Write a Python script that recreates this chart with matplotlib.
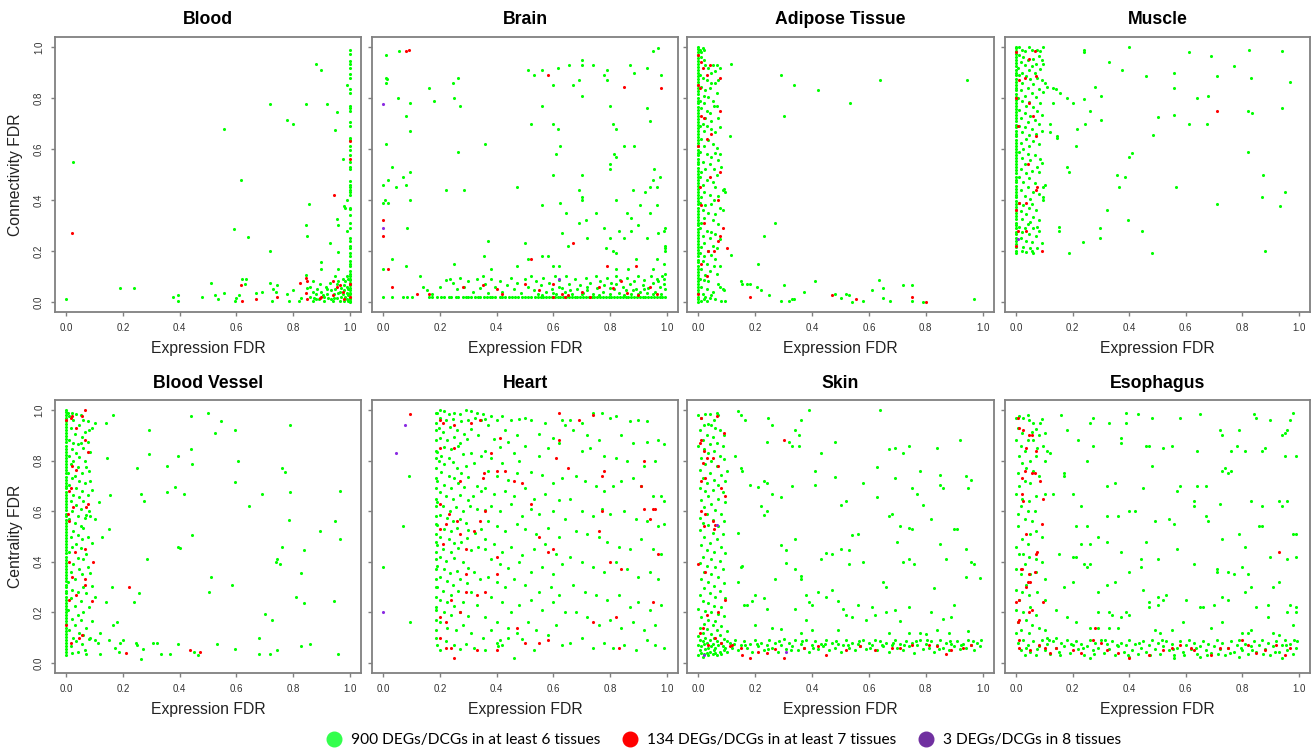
import matplotlib
matplotlib.use("Agg")
import matplotlib.pyplot as plt
from matplotlib.lines import Line2D
import numpy as np

plt.rcParams["font.family"] = ["Liberation Sans", "DejaVu Sans"]

# ---------------- data (Expression FDR, Connectivity/Centrality FDR) ----------------
tissues = ["Blood", "Brain", "Adipose Tissue", "Muscle",
           "Blood Vessel", "Heart", "Skin", "Esophagus"]
ylabels = ["Connectivity FDR", "Centrality FDR"]
xticks = [0.0, 0.2, 0.4, 0.6, 0.8, 1.0]
legend_labels = ["900 DEGs/DCGs in at least 6 tissues",
                 "134 DEGs/DCGs in at least 7 tissues",
                 "3 DEGs/DCGs in 8 tissues"]

# Blood
blood_green = [
    (0.00, 0.01), (0.025, 0.55), (0.19, 0.055), (0.24, 0.055), (0.375, 0.02), (0.395, 0.025), (0.395, 0.005),
    (0.48, 0.02), (0.51, 0.075), (0.525, 0.025), (0.535, 0.01), (0.555, 0.68), (0.555, 0.035),
    (0.59, 0.285), (0.595, 0.005), (0.60, 0.015), (0.61, 0.025), (0.615, 0.48), (0.62, 0.09), (0.63, 0.07),
    (0.635, 0.09), (0.64, 0.255), (0.67, 0.035), (0.69, 0.04), (0.72, 0.775), (0.72, 0.20), (0.72, 0.075),
    (0.725, 0.005), (0.73, 0.05), (0.74, 0.04), (0.745, 0.065), (0.78, 0.715), (0.78, 0.03), (0.785, 0.005),
    (0.80, 0.70), (0.80, 0.045), (0.82, 0.005), (0.83, 0.015), (0.845, 0.775), (0.845, 0.30), (0.85, 0.26),
    (0.855, 0.385), (0.845, 0.105), (0.85, 0.055), (0.86, 0.02), (0.87, 0.005), (0.88, 0.935), (0.90, 0.91),
    (0.92, 0.775), (0.955, 0.745), (0.95, 0.675), (0.93, 0.23), (0.96, 0.195), (0.955, 0.325), (0.96, 0.30),
    (0.96, 0.13), (0.90, 0.155), (0.90, 0.13), (0.975, 0.56), (0.98, 0.375), (0.99, 0.40), (0.99, 0.85),
    (0.99, 0.28), (0.985, 0.37),
    (0.86, 0.06), (0.87, 0.04), (0.875, 0.015), (0.88, 0.03), (0.885, 0.05), (0.89, 0.01), (0.895, 0.07),
    (0.90, 0.04), (0.905, 0.025), (0.91, 0.005), (0.915, 0.06), (0.92, 0.03), (0.925, 0.015), (0.93, 0.075),
    (0.935, 0.045), (0.94, 0.005), (0.945, 0.03), (0.95, 0.10), (0.95, 0.05), (0.955, 0.015), (0.96, 0.08),
    (0.96, 0.035), (0.965, 0.005), (0.97, 0.055), (0.97, 0.02), (0.975, 0.09), (0.975, 0.03), (0.98, 0.065),
    (0.98, 0.045), (0.98, 0.005), (0.985, 0.08), (0.985, 0.02), (0.99, 0.10), (0.99, 0.06), (0.99, 0.035),
    (0.99, 0.01), (0.995, 0.09), (0.995, 0.05), (0.995, 0.025), (0.995, 0.005), (0.91, 0.02), (0.87, 0.08),
    (0.88, 0.01), (0.935, 0.01), (0.965, 0.04), (0.955, 0.07), (0.945, 0.015), (0.92, 0.05),
]
blood_one_y = [0.99, 0.975, 0.945, 0.935, 0.92, 0.895, 0.88, 0.835, 0.82, 0.77, 0.76, 0.75, 0.705, 0.69,
               0.645, 0.635, 0.61, 0.595, 0.575, 0.55, 0.53, 0.52, 0.475, 0.46, 0.45, 0.44, 0.43, 0.42,
               0.37, 0.365, 0.34, 0.31, 0.29, 0.25, 0.24, 0.22, 0.21, 0.19, 0.18, 0.16, 0.15, 0.14, 0.12,
               0.11, 0.10, 0.09, 0.085, 0.075, 0.065, 0.055, 0.045, 0.035, 0.03, 0.02, 0.015, 0.01, 0.005, 0.0]
blood_red = [(0.02, 0.27), (0.615, 0.065), (0.62, 0.005), (0.67, 0.01), (0.745, 0.02), (0.825, 0.075),
             (0.845, 0.095), (0.85, 0.08), (0.845, 0.035), (0.85, 0.01), (0.895, 0.015), (0.90, 0.02),
             (0.94, 0.08), (0.94, 0.025), (0.945, 0.42), (0.955, 0.06), (0.965, 0.065), (0.975, 0.04),
             (0.98, 0.01), (1.0, 0.63), (1.0, 0.56), (1.0, 0.07), (1.0, 0.02)]
blood_purple = []

# Brain
brain_green = [
    (0.01, 0.97), (0.055, 0.985), (0.01, 0.88), (0.012, 0.875), (0.01, 0.86), (0.05, 0.80), (0.095, 0.78),
    (0.08, 0.73), (0.095, 0.67), (0.01, 0.62), (0.03, 0.53), (0.0, 0.46), (0.015, 0.48), (0.07, 0.49),
    (0.095, 0.51), (0.045, 0.45), (0.08, 0.46), (0.0, 0.39), (0.005, 0.40), (0.015, 0.39), (0.095, 0.40),
    (0.085, 0.29), (0.0, 0.13), (0.03, 0.17), (0.08, 0.14),
    (0.16, 0.84), (0.245, 0.86), (0.265, 0.88), (0.18, 0.79), (0.25, 0.80), (0.27, 0.77), (0.265, 0.59),
    (0.22, 0.44), (0.285, 0.44), (0.36, 0.62), (0.47, 0.45), (0.37, 0.24), (0.355, 0.18), (0.38, 0.13),
    (0.25, 0.15), (0.51, 0.91), (0.53, 0.89), (0.56, 0.91), (0.615, 0.92), (0.655, 0.93), (0.70, 0.95),
    (0.70, 0.93), (0.74, 0.93), (0.79, 0.91), (0.78, 0.89), (0.87, 0.93), (0.885, 0.90), (0.93, 0.92),
    (0.95, 0.985), (0.97, 0.995), (0.98, 0.89), (0.60, 0.85), (0.67, 0.85), (0.69, 0.87), (0.70, 0.81),
    (0.56, 0.77), (0.52, 0.70), (0.60, 0.70), (0.615, 0.68), (0.625, 0.61), (0.61, 0.58), (0.60, 0.50),
    (0.70, 0.50), (0.69, 0.44), (0.70, 0.41), (0.70, 0.40), (0.56, 0.38), (0.625, 0.39), (0.645, 0.35),
    (0.69, 0.31), (0.715, 0.32), (0.75, 0.35), (0.63, 0.27), (0.65, 0.22), (0.72, 0.25), (0.79, 0.87),
    (0.80, 0.77), (0.81, 0.70), (0.82, 0.68), (0.815, 0.58), (0.82, 0.57), (0.80, 0.54), (0.80, 0.52),
    (0.85, 0.61), (0.885, 0.61), (0.93, 0.76), (0.94, 0.71), (0.955, 0.52), (0.95, 0.48), (0.965, 0.45),
    (0.975, 0.49), (0.88, 0.44), (0.925, 0.43), (0.94, 0.45), (0.82, 0.40), (0.905, 0.38), (0.94, 0.35),
    (0.965, 0.38), (0.86, 0.35), (0.875, 0.33), (0.90, 0.30), (0.78, 0.29), (0.83, 0.28), (0.875, 0.28),
    (0.80, 0.25), (0.85, 0.25), (0.93, 0.25), (0.97, 0.27), (0.99, 0.28), (0.995, 0.29), (0.995, 0.22),
    (0.995, 0.21), (0.995, 0.20), (0.99, 0.15), (0.965, 0.17), (0.95, 0.13), (0.89, 0.17), (0.865, 0.13),
    (0.81, 0.20), (0.82, 0.19), (0.785, 0.21), (0.82, 0.13), (0.56, 0.18), (0.58, 0.18), (0.60, 0.14),
    (0.62, 0.14), (0.50, 0.23), (0.51, 0.17), (0.47, 0.14),
    (0.13, 0.10), (0.14, 0.06), (0.155, 0.045), (0.17, 0.03), (0.20, 0.06), (0.22, 0.085), (0.235, 0.09),
    (0.245, 0.075), (0.26, 0.05), (0.27, 0.095), (0.285, 0.06), (0.30, 0.08), (0.315, 0.04), (0.33, 0.09),
    (0.34, 0.055), (0.35, 0.10), (0.36, 0.07), (0.37, 0.035), (0.38, 0.09), (0.395, 0.06), (0.41, 0.08),
    (0.42, 0.04), (0.435, 0.065), (0.45, 0.095), (0.46, 0.05), (0.47, 0.075), (0.485, 0.035), (0.50, 0.09),
    (0.51, 0.06), (0.52, 0.10), (0.53, 0.045), (0.54, 0.08), (0.545, 0.03), (0.555, 0.065), (0.565, 0.095),
    (0.575, 0.04), (0.585, 0.075), (0.595, 0.05), (0.605, 0.10), (0.61, 0.03), (0.62, 0.085), (0.63, 0.055),
    (0.64, 0.04), (0.645, 0.10), (0.655, 0.07), (0.665, 0.03), (0.675, 0.09), (0.685, 0.05), (0.695, 0.065),
    (0.705, 0.035), (0.715, 0.095), (0.72, 0.045), (0.73, 0.075), (0.74, 0.03), (0.75, 0.10), (0.755, 0.055),
    (0.765, 0.08), (0.775, 0.04), (0.78, 0.065), (0.79, 0.095), (0.80, 0.03), (0.805, 0.075), (0.815, 0.05),
    (0.82, 0.10), (0.83, 0.035), (0.835, 0.085), (0.845, 0.06), (0.855, 0.045), (0.86, 0.095), (0.87, 0.07),
    (0.875, 0.03), (0.885, 0.08), (0.89, 0.05), (0.90, 0.10), (0.905, 0.04), (0.915, 0.065), (0.92, 0.085),
    (0.93, 0.035), (0.935, 0.055), (0.945, 0.10), (0.95, 0.075), (0.96, 0.04), (0.965, 0.09), (0.975, 0.06),
    (0.98, 0.03), (0.985, 0.10), (0.99, 0.07), (0.995, 0.05), (0.995, 0.11), (0.99, 0.09), (0.70, 0.03),
    (0.60, 0.035), (0.66, 0.045), (0.80, 0.055), (0.85, 0.025), (0.95, 0.03), (0.90, 0.03), (0.56, 0.025),
    (0.76, 0.025), (0.88, 0.045), (0.62, 0.06), (0.72, 0.06), (0.82, 0.07), (0.92, 0.05), (0.97, 0.08),
]
brain_floor_x = [0.0, 0.03, 0.07, 0.085, 0.10, 0.16, 0.17, 0.19, 0.205, 0.215, 0.23, 0.24, 0.255, 0.265,
                 0.28, 0.29, 0.30, 0.31, 0.325, 0.335, 0.34, 0.355, 0.365, 0.375, 0.385, 0.395, 0.41, 0.42,
                 0.43, 0.445, 0.455, 0.465, 0.475, 0.49, 0.50, 0.51, 0.52, 0.535, 0.545, 0.555, 0.565, 0.575,
                 0.585, 0.595, 0.605, 0.615, 0.625, 0.635, 0.645, 0.655, 0.665, 0.675, 0.685, 0.695, 0.705,
                 0.715, 0.725, 0.735, 0.745, 0.755, 0.765, 0.775, 0.785, 0.795, 0.805, 0.815, 0.825, 0.835,
                 0.845, 0.855, 0.865, 0.875, 0.885, 0.895, 0.905, 0.915, 0.925, 0.935, 0.945, 0.955, 0.965,
                 0.975, 0.985, 0.995]
brain_floor_y = 0.02
brain_red = [(0.08, 0.985), (0.09, 0.99), (0.58, 0.89), (0.85, 0.845), (0.98, 0.84), (0.0, 0.32), (0.0, 0.26),
             (0.015, 0.13), (0.03, 0.06), (0.67, 0.23), (0.52, 0.17), (0.79, 0.14), (0.89, 0.14), (0.28, 0.06),
             (0.35, 0.065), (0.40, 0.05), (0.42, 0.03), (0.50, 0.07), (0.55, 0.045), (0.60, 0.07), (0.63, 0.03),
             (0.65, 0.025), (0.70, 0.04), (0.73, 0.02), (0.76, 0.06), (0.81, 0.055), (0.84, 0.08), (0.86, 0.035),
             (0.90, 0.025), (0.94, 0.06), (0.965, 0.03), (0.60, 0.02), (0.64, 0.02), (0.12, 0.03), (0.16, 0.03)]
brain_purple = [(0.0, 0.775), (0.0, 0.29), (0.62, 0.09)]

# Adipose Tissue
adipose_zero_y = [0.0, 0.012, 0.02, 0.035, 0.046, 0.058, 0.07, 0.083, 0.095, 0.105, 0.118, 0.13, 0.142,
                  0.155, 0.166, 0.178, 0.19, 0.203, 0.214, 0.226, 0.24, 0.251, 0.262, 0.275, 0.287, 0.3,
                  0.31, 0.322, 0.335, 0.346, 0.358, 0.37, 0.383, 0.394, 0.406, 0.42, 0.43, 0.442, 0.455,
                  0.466, 0.478, 0.49, 0.503, 0.514, 0.526, 0.54, 0.55, 0.562, 0.575, 0.586, 0.598, 0.61,
                  0.623, 0.634, 0.646, 0.66, 0.67, 0.682, 0.695, 0.706, 0.718, 0.73, 0.743, 0.754, 0.766,
                  0.78, 0.79, 0.802, 0.815, 0.826, 0.838, 0.85, 0.863, 0.874, 0.886, 0.9, 0.91, 0.922,
                  0.935, 0.946, 0.958, 0.97, 0.982, 0.993, 1.0]
adipose_green = [
    (0.005, 0.99), (0.01, 0.98), (0.015, 0.995), (0.02, 0.99), (0.01, 0.96), (0.02, 0.95), (0.025, 0.93),
    (0.035, 0.92), (0.05, 0.93), (0.065, 0.93), (0.075, 0.92), (0.115, 0.935), (0.045, 0.90), (0.06, 0.905),
    (0.005, 0.89), (0.015, 0.88), (0.03, 0.87), (0.045, 0.86), (0.06, 0.86), (0.07, 0.87), (0.01, 0.845),
    (0.025, 0.83), (0.04, 0.84), (0.065, 0.82), (0.02, 0.81), (0.035, 0.805), (0.005, 0.79), (0.02, 0.78),
    (0.05, 0.79), (0.055, 0.77), (0.065, 0.77), (0.01, 0.76), (0.03, 0.75), (0.04, 0.74), (0.025, 0.72),
    (0.07, 0.72), (0.015, 0.70), (0.045, 0.71), (0.005, 0.69), (0.03, 0.69), (0.045, 0.68), (0.075, 0.685),
    (0.02, 0.67), (0.06, 0.665), (0.11, 0.65), (0.01, 0.64), (0.035, 0.635), (0.05, 0.62), (0.075, 0.58),
    (0.02, 0.61), (0.065, 0.605), (0.005, 0.59), (0.03, 0.58), (0.045, 0.57), (0.06, 0.585), (0.07, 0.555),
    (0.015, 0.55), (0.04, 0.54), (0.055, 0.52), (0.08, 0.53), (0.025, 0.52), (0.01, 0.51), (0.065, 0.50),
    (0.005, 0.49), (0.03, 0.48), (0.05, 0.47), (0.015, 0.46), (0.06, 0.45), (0.085, 0.44), (0.09, 0.445),
    (0.095, 0.43), (0.02, 0.43), (0.04, 0.42), (0.07, 0.415), (0.01, 0.41), (0.055, 0.40), (0.005, 0.39),
    (0.025, 0.38), (0.045, 0.385), (0.075, 0.37), (0.015, 0.36), (0.035, 0.35), (0.06, 0.345), (0.085, 0.36),
    (0.02, 0.33), (0.05, 0.32), (0.01, 0.31), (0.07, 0.305), (0.005, 0.29), (0.03, 0.28), (0.045, 0.275),
    (0.06, 0.265), (0.015, 0.26), (0.04, 0.25), (0.075, 0.245), (0.02, 0.23), (0.05, 0.22), (0.065, 0.21),
    (0.01, 0.215), (0.035, 0.20), (0.005, 0.19), (0.02, 0.18), (0.045, 0.185), (0.115, 0.185), (0.06, 0.17),
    (0.015, 0.16), (0.03, 0.15), (0.055, 0.14), (0.075, 0.14), (0.01, 0.13), (0.04, 0.12), (0.065, 0.11),
    (0.025, 0.105), (0.005, 0.09), (0.02, 0.085), (0.035, 0.08), (0.07, 0.07), (0.075, 0.06), (0.085, 0.05),
    (0.09, 0.045), (0.01, 0.06), (0.03, 0.05), (0.05, 0.04), (0.015, 0.03), (0.025, 0.02), (0.04, 0.015),
    (0.06, 0.01), (0.08, 0.005), (0.095, 0.005), (0.01, 0.005), (0.02, 0.01), (0.03, 0.005), (0.045, 0.025),
    (0.29, 0.89), (0.335, 0.85), (0.42, 0.83), (0.535, 0.78), (0.64, 0.87), (0.945, 0.87), (0.30, 0.73),
    (0.27, 0.31), (0.23, 0.26), (0.21, 0.15), (0.15, 0.08), (0.155, 0.07), (0.17, 0.07), (0.18, 0.07),
    (0.205, 0.06), (0.22, 0.045), (0.25, 0.025), (0.29, 0.005), (0.30, 0.065), (0.32, 0.005), (0.33, 0.01),
    (0.335, 0.01), (0.37, 0.04), (0.41, 0.08), (0.48, 0.03), (0.50, 0.015), (0.52, 0.03), (0.53, 0.025),
    (0.54, 0.0), (0.58, 0.005), (0.61, 0.045), (0.635, 0.085), (0.65, 0.055), (0.65, 0.015), (0.675, 0.005),
    (0.72, 0.065), (0.75, 0.065), (0.75, 0.005), (0.79, 0.0), (0.97, 0.01),
]
adipose_red = [(0.18, 0.02), (0.47, 0.025), (0.555, 0.01), (0.75, 0.02), (0.80, 0.0), (0.0, 0.97),
               (0.01, 0.94), (0.04, 0.93), (0.015, 0.92), (0.03, 0.89), (0.075, 0.88), (0.0, 0.85),
               (0.005, 0.84), (0.075, 0.75), (0.01, 0.73), (0.02, 0.72), (0.03, 0.64), (0.045, 0.66),
               (0.0, 0.61), (0.075, 0.51), (0.04, 0.49), (0.005, 0.45), (0.07, 0.40), (0.01, 0.38),
               (0.02, 0.31), (0.085, 0.29), (0.075, 0.26), (0.07, 0.24), (0.055, 0.20), (0.035, 0.20),
               (0.10, 0.21), (0.01, 0.15), (0.03, 0.10), (0.0, 0.03)]
adipose_purple = []

# Muscle
muscle_zero_y = [0.19, 0.2, 0.215, 0.226, 0.24, 0.25, 0.265, 0.276, 0.29, 0.3, 0.31, 0.325, 0.336, 0.35,
                 0.36, 0.372, 0.385, 0.396, 0.41, 0.42, 0.432, 0.445, 0.456, 0.47, 0.48, 0.492, 0.505,
                 0.516, 0.53, 0.54, 0.552, 0.565, 0.576, 0.59, 0.6, 0.612, 0.625, 0.636, 0.65, 0.66, 0.672,
                 0.685, 0.696, 0.71, 0.72, 0.732, 0.745, 0.756, 0.77, 0.78, 0.792, 0.805, 0.816, 0.83, 0.84,
                 0.852, 0.865, 0.876, 0.89, 0.9, 0.912, 0.925, 0.936, 0.95, 0.96, 0.972, 0.985, 0.995, 1.0]
muscle_green = [
    (0.01, 1.0), (0.02, 0.99), (0.03, 0.985), (0.045, 1.0), (0.055, 0.99), (0.075, 0.99), (0.095, 1.0),
    (0.085, 0.985), (0.01, 0.97), (0.025, 0.96), (0.04, 0.95), (0.06, 0.955), (0.08, 0.965), (0.09, 0.95),
    (0.015, 0.94), (0.03, 0.93), (0.055, 0.925), (0.07, 0.935), (0.095, 0.935), (0.005, 0.92), (0.045, 0.91),
    (0.085, 0.915), (0.02, 0.90), (0.065, 0.90), (0.01, 0.89), (0.035, 0.885), (0.05, 0.875), (0.075, 0.88),
    (0.09, 0.87), (0.02, 0.86), (0.06, 0.855), (0.10, 0.86), (0.11, 0.845), (0.04, 0.84), (0.08, 0.835),
    (0.015, 0.83), (0.055, 0.82), (0.095, 0.825), (0.03, 0.81), (0.07, 0.805), (0.005, 0.80), (0.02, 0.79),
    (0.045, 0.785), (0.085, 0.78), (0.035, 0.77), (0.06, 0.765), (0.01, 0.755), (0.075, 0.75), (0.03, 0.74),
    (0.05, 0.73), (0.09, 0.735), (0.015, 0.72), (0.065, 0.715), (0.04, 0.705), (0.08, 0.70), (0.01, 0.69),
    (0.03, 0.685), (0.055, 0.68), (0.02, 0.665), (0.045, 0.655), (0.07, 0.66), (0.09, 0.67), (0.035, 0.64),
    (0.06, 0.63), (0.015, 0.625), (0.08, 0.62), (0.045, 0.61), (0.025, 0.60), (0.01, 0.59), (0.04, 0.58),
    (0.065, 0.575), (0.02, 0.565), (0.05, 0.555), (0.085, 0.56), (0.09, 0.545), (0.03, 0.54), (0.075, 0.53),
    (0.015, 0.52), (0.055, 0.515), (0.035, 0.505), (0.08, 0.51), (0.01, 0.49), (0.045, 0.485), (0.025, 0.47),
    (0.065, 0.465), (0.10, 0.46), (0.095, 0.45), (0.04, 0.45), (0.015, 0.44), (0.06, 0.43), (0.08, 0.425),
    (0.03, 0.415), (0.05, 0.405), (0.095, 0.41), (0.095, 0.40), (0.01, 0.39), (0.025, 0.38), (0.055, 0.385),
    (0.045, 0.37), (0.07, 0.36), (0.015, 0.355), (0.035, 0.345), (0.06, 0.335), (0.02, 0.325), (0.05, 0.315),
    (0.08, 0.32), (0.04, 0.305), (0.01, 0.295), (0.03, 0.29), (0.06, 0.29), (0.075, 0.295), (0.08, 0.28),
    (0.02, 0.275), (0.045, 0.265), (0.07, 0.26), (0.015, 0.25), (0.035, 0.24), (0.055, 0.235), (0.09, 0.23),
    (0.025, 0.215), (0.05, 0.21), (0.02, 0.20), (0.035, 0.195), (0.055, 0.20), (0.06, 0.19), (0.075, 0.21),
    (0.24, 0.99), (0.24, 0.98), (0.40, 1.0), (0.61, 0.98), (0.69, 0.965), (0.825, 0.99), (0.94, 0.985),
    (0.33, 0.94), (0.375, 0.91), (0.77, 0.925), (0.46, 0.885), (0.56, 0.90), (0.71, 0.885), (0.83, 0.88),
    (0.97, 0.865), (0.28, 0.845), (0.56, 0.84), (0.13, 0.84), (0.14, 0.835), (0.155, 0.82), (0.18, 0.80),
    (0.30, 0.81), (0.24, 0.795), (0.68, 0.81), (0.64, 0.80), (0.13, 0.78), (0.20, 0.78), (0.26, 0.75),
    (0.82, 0.75), (0.835, 0.74), (0.94, 0.76), (0.50, 0.725), (0.56, 0.735), (0.30, 0.715), (0.12, 0.70),
    (0.245, 0.70), (0.61, 0.70), (0.675, 0.70), (0.215, 0.68), (0.12, 0.665), (0.145, 0.65), (0.145, 0.645),
    (0.485, 0.655), (0.21, 0.61), (0.41, 0.585), (0.40, 0.57), (0.82, 0.59), (0.18, 0.53), (0.185, 0.51),
    (0.355, 0.50), (0.385, 0.49), (0.365, 0.45), (0.565, 0.45), (0.875, 0.50), (0.95, 0.43), (0.87, 0.41),
    (0.935, 0.375), (0.71, 0.385), (0.32, 0.36), (0.395, 0.32), (0.15, 0.295), (0.15, 0.28), (0.295, 0.29),
    (0.445, 0.28), (0.295, 0.25), (0.235, 0.235), (0.88, 0.20), (0.185, 0.19), (0.48, 0.19),
]
muscle_red = [(0.71, 0.75), (0.09, 0.20), (0.0, 0.98), (0.065, 0.985), (0.045, 0.955), (0.03, 0.88),
              (0.07, 0.885), (0.01, 0.87), (0.0, 0.80), (0.045, 0.78), (0.06, 0.73), (0.005, 0.69),
              (0.07, 0.65), (0.04, 0.54), (0.075, 0.45), (0.07, 0.44), (0.035, 0.39), (0.01, 0.39),
              (0.0, 0.36), (0.035, 0.28), (0.005, 0.28), (0.0, 0.22)]
muscle_purple = [(0.005, 0.245)]

# Blood Vessel
bv_zero_y = [0.03, 0.042, 0.055, 0.066, 0.08, 0.09, 0.104, 0.116, 0.128, 0.14, 0.153, 0.164, 0.177, 0.19,
             0.2, 0.213, 0.226, 0.238, 0.25, 0.262, 0.275, 0.286, 0.3, 0.31, 0.323, 0.335, 0.348, 0.36,
             0.372, 0.384, 0.396, 0.408, 0.42, 0.433, 0.445, 0.458, 0.47, 0.481, 0.494, 0.506, 0.518,
             0.53, 0.543, 0.555, 0.567, 0.58, 0.59, 0.603, 0.615, 0.627, 0.64, 0.652, 0.664, 0.676, 0.69,
             0.7, 0.713, 0.725, 0.737, 0.75, 0.762, 0.774, 0.786, 0.8, 0.81, 0.823, 0.835, 0.847, 0.86,
             0.872, 0.884, 0.896, 0.91, 0.92, 0.933, 0.945, 0.957, 0.97, 0.982, 0.994, 1.0]
bv_green = [
    (0.005, 0.99), (0.01, 0.975), (0.02, 0.99), (0.025, 0.96), (0.035, 0.985), (0.05, 0.98), (0.06, 0.96),
    (0.075, 0.955), (0.09, 0.93), (0.08, 0.92), (0.065, 0.915), (0.045, 0.94), (0.015, 0.93), (0.03, 0.905),
    (0.055, 0.895), (0.01, 0.88), (0.025, 0.87), (0.04, 0.865), (0.05, 0.87), (0.075, 0.875), (0.06, 0.85),
    (0.02, 0.845), (0.035, 0.83), (0.085, 0.835), (0.045, 0.815), (0.065, 0.80), (0.01, 0.82), (0.025, 0.80),
    (0.015, 0.785), (0.04, 0.775), (0.07, 0.775), (0.08, 0.76), (0.055, 0.75), (0.03, 0.74), (0.005, 0.75),
    (0.02, 0.73), (0.045, 0.72), (0.065, 0.71), (0.085, 0.72), (0.01, 0.705), (0.035, 0.69), (0.055, 0.68),
    (0.075, 0.665), (0.09, 0.685), (0.025, 0.665), (0.045, 0.655), (0.015, 0.64), (0.06, 0.64), (0.08, 0.60),
    (0.035, 0.625), (0.05, 0.61), (0.07, 0.585), (0.065, 0.575), (0.02, 0.60), (0.04, 0.58), (0.085, 0.58),
    (0.10, 0.57), (0.01, 0.57), (0.03, 0.555), (0.05, 0.54), (0.06, 0.535), (0.025, 0.52), (0.04, 0.505),
    (0.055, 0.49), (0.015, 0.50), (0.075, 0.50), (0.09, 0.475), (0.035, 0.47), (0.02, 0.46), (0.05, 0.455),
    (0.07, 0.43), (0.01, 0.44), (0.04, 0.415), (0.06, 0.41), (0.025, 0.39), (0.075, 0.38), (0.045, 0.37),
    (0.015, 0.36), (0.055, 0.35), (0.085, 0.355), (0.03, 0.33), (0.005, 0.32), (0.06, 0.30), (0.09, 0.305),
    (0.02, 0.29), (0.04, 0.28), (0.07, 0.275), (0.10, 0.26), (0.015, 0.255), (0.05, 0.245), (0.03, 0.225),
    (0.08, 0.22), (0.005, 0.21), (0.06, 0.20), (0.04, 0.19), (0.02, 0.175), (0.05, 0.17), (0.09, 0.165),
    (0.03, 0.15), (0.07, 0.14), (0.01, 0.13), (0.045, 0.12), (0.06, 0.11), (0.025, 0.10), (0.08, 0.095),
    (0.035, 0.085), (0.055, 0.075), (0.015, 0.065), (0.065, 0.05), (0.04, 0.045), (0.07, 0.035), (0.02, 0.04),
    (0.10, 0.09), (0.085, 0.10),
    (0.165, 0.98), (0.14, 0.95), (0.10, 0.95), (0.29, 0.92), (0.145, 0.81), (0.29, 0.825), (0.25, 0.77),
    (0.355, 0.78), (0.395, 0.82), (0.44, 0.845), (0.445, 0.785), (0.44, 0.975), (0.50, 0.99), (0.545, 0.955),
    (0.525, 0.91), (0.595, 0.92), (0.605, 0.80), (0.595, 0.715), (0.79, 0.94), (0.76, 0.77), (0.77, 0.755),
    (0.69, 0.67), (0.79, 0.675), (0.965, 0.68), (0.645, 0.62), (0.275, 0.64), (0.265, 0.67), (0.155, 0.665),
    (0.115, 0.635), (0.355, 0.675), (0.385, 0.695), (0.415, 0.67), (0.15, 0.53), (0.125, 0.50), (0.445, 0.505),
    (0.395, 0.46), (0.40, 0.455), (0.285, 0.41), (0.785, 0.565), (0.95, 0.56), (0.895, 0.52), (0.965, 0.49),
    (0.76, 0.46), (0.84, 0.445), (0.74, 0.40), (0.745, 0.41), (0.755, 0.39), (0.83, 0.355), (0.51, 0.34),
    (0.585, 0.31), (0.16, 0.30), (0.255, 0.275), (0.505, 0.28), (0.24, 0.24), (0.14, 0.24), (0.81, 0.26),
    (0.84, 0.235), (0.945, 0.245), (0.70, 0.195), (0.725, 0.17), (0.18, 0.16), (0.165, 0.15), (0.15, 0.09),
    (0.17, 0.06), (0.12, 0.12), (0.11, 0.08), (0.19, 0.08), (0.20, 0.09), (0.245, 0.08), (0.25, 0.07),
    (0.27, 0.055), (0.305, 0.08), (0.32, 0.08), (0.335, 0.035), (0.365, 0.035), (0.395, 0.075), (0.265, 0.015),
    (0.12, 0.035), (0.185, 0.045), (0.45, 0.045), (0.465, 0.03), (0.53, 0.075), (0.595, 0.055), (0.68, 0.10),
    (0.68, 0.035), (0.72, 0.035), (0.745, 0.05), (0.83, 0.065), (0.86, 0.075), (0.96, 0.035),
]
bv_red = [(0.22, 0.30), (0.21, 0.04), (0.435, 0.05), (0.47, 0.045), (0.0, 0.96), (0.015, 0.97), (0.02, 0.975),
          (0.065, 1.0), (0.055, 0.975), (0.035, 0.93), (0.065, 0.88), (0.075, 0.835), (0.035, 0.765),
          (0.02, 0.78), (0.015, 0.69), (0.01, 0.68), (0.025, 0.615), (0.07, 0.615), (0.075, 0.63),
          (0.01, 0.56), (0.005, 0.59), (0.03, 0.44), (0.065, 0.45), (0.095, 0.40), (0.01, 0.40), (0.02, 0.34),
          (0.065, 0.33), (0.065, 0.31), (0.035, 0.27), (0.01, 0.25), (0.09, 0.245), (0.0, 0.15), (0.045, 0.10),
          (0.055, 0.11), (0.015, 0.08)]
bv_purple = []

# Heart
heart_edge_y = [0.10, 0.13, 0.17, 0.22, 0.26, 0.30, 0.33, 0.37, 0.41, 0.44, 0.48, 0.51, 0.55, 0.58, 0.62,
                0.65, 0.69, 0.73, 0.77, 0.81, 0.84, 0.88, 0.92, 0.95, 0.99]
heart_green = [
    (0.09, 0.74), (0.07, 0.54), (0.0, 0.38), (0.095, 0.16),
    (0.19, 0.99), (0.20, 1.0), (0.215, 0.995), (0.23, 0.985), (0.25, 0.99), (0.27, 0.985), (0.29, 1.0),
    (0.31, 0.995), (0.33, 0.99), (0.35, 0.985), (0.20, 0.97), (0.22, 0.96), (0.245, 0.965), (0.275, 0.955),
    (0.30, 0.96), (0.325, 0.97), (0.345, 0.96), (0.36, 0.965), (0.38, 0.975), (0.195, 0.93), (0.21, 0.915),
    (0.235, 0.935), (0.26, 0.92), (0.285, 0.905), (0.31, 0.925), (0.20, 0.89), (0.225, 0.88), (0.25, 0.895),
    (0.27, 0.87), (0.295, 0.885), (0.335, 0.90), (0.215, 0.855), (0.24, 0.845), (0.265, 0.86), (0.19, 0.835),
    (0.205, 0.82), (0.23, 0.81), (0.28, 0.825), (0.31, 0.83), (0.345, 0.82), (0.36, 0.84), (0.195, 0.80),
    (0.215, 0.785), (0.245, 0.795), (0.26, 0.77), (0.29, 0.78), (0.32, 0.79), (0.205, 0.755), (0.23, 0.74),
    (0.25, 0.73), (0.275, 0.75), (0.30, 0.735), (0.19, 0.72), (0.215, 0.705), (0.24, 0.69), (0.265, 0.71),
    (0.285, 0.695), (0.33, 0.70), (0.345, 0.68), (0.20, 0.675), (0.22, 0.66), (0.245, 0.65), (0.27, 0.665),
    (0.30, 0.645), (0.315, 0.66), (0.19, 0.635), (0.21, 0.62), (0.235, 0.60), (0.255, 0.615), (0.28, 0.60),
    (0.305, 0.62), (0.33, 0.61), (0.36, 0.605), (0.20, 0.585), (0.225, 0.575), (0.245, 0.56), (0.27, 0.57),
    (0.29, 0.555), (0.19, 0.545), (0.215, 0.53), (0.24, 0.52), (0.26, 0.535), (0.30, 0.525), (0.325, 0.515),
    (0.345, 0.53), (0.20, 0.50), (0.23, 0.49), (0.25, 0.475), (0.275, 0.48), (0.295, 0.495), (0.19, 0.465),
    (0.21, 0.45), (0.24, 0.44), (0.265, 0.455), (0.31, 0.445), (0.335, 0.46), (0.36, 0.45), (0.20, 0.42),
    (0.22, 0.405), (0.25, 0.415), (0.28, 0.40), (0.19, 0.385), (0.215, 0.37), (0.235, 0.355), (0.26, 0.365),
    (0.30, 0.375), (0.32, 0.36), (0.20, 0.34), (0.225, 0.325), (0.245, 0.31), (0.27, 0.33), (0.295, 0.315),
    (0.34, 0.33), (0.19, 0.30), (0.21, 0.285), (0.24, 0.27), (0.265, 0.285), (0.31, 0.28), (0.20, 0.25),
    (0.225, 0.24), (0.25, 0.225), (0.28, 0.24), (0.33, 0.23), (0.185, 0.21), (0.215, 0.20), (0.24, 0.19),
    (0.27, 0.20), (0.30, 0.185), (0.20, 0.16), (0.225, 0.14), (0.255, 0.13), (0.28, 0.15), (0.31, 0.12),
    (0.19, 0.07), (0.22, 0.085), (0.25, 0.07), (0.27, 0.055), (0.29, 0.075), (0.32, 0.06), (0.36, 0.05),
    (0.40, 0.08), (0.41, 0.09), (0.405, 0.065), (0.42, 0.07), (0.46, 0.02), (0.20, 0.05),
    (0.37, 0.94), (0.40, 0.96), (0.42, 0.975), (0.45, 0.96), (0.48, 0.965), (0.50, 0.97), (0.52, 0.96),
    (0.43, 0.92), (0.47, 0.90), (0.39, 0.885), (0.41, 0.855), (0.44, 0.875), (0.50, 0.86), (0.46, 0.83),
    (0.38, 0.81), (0.42, 0.79), (0.48, 0.80), (0.55, 0.82), (0.60, 0.89), (0.62, 0.87), (0.58, 0.85),
    (0.64, 0.94), (0.63, 0.96), (0.57, 0.95), (0.55, 0.905), (0.37, 0.76), (0.40, 0.74), (0.44, 0.725),
    (0.47, 0.75), (0.52, 0.755), (0.56, 0.745), (0.60, 0.71), (0.63, 0.73), (0.36, 0.69), (0.39, 0.67),
    (0.43, 0.68), (0.46, 0.66), (0.50, 0.69), (0.53, 0.65), (0.57, 0.67), (0.62, 0.645), (0.38, 0.62),
    (0.41, 0.60), (0.45, 0.63), (0.49, 0.58), (0.52, 0.61), (0.55, 0.59), (0.60, 0.60), (0.64, 0.57),
    (0.37, 0.56), (0.40, 0.54), (0.43, 0.52), (0.47, 0.55), (0.50, 0.53), (0.54, 0.51), (0.58, 0.535),
    (0.62, 0.50), (0.36, 0.49), (0.39, 0.47), (0.42, 0.44), (0.45, 0.46), (0.49, 0.425), (0.53, 0.45),
    (0.57, 0.47), (0.61, 0.43), (0.38, 0.41), (0.41, 0.39), (0.44, 0.375), (0.48, 0.40), (0.52, 0.36),
    (0.56, 0.38), (0.60, 0.35), (0.63, 0.39), (0.37, 0.34), (0.40, 0.32), (0.43, 0.30), (0.46, 0.33),
    (0.50, 0.31), (0.55, 0.28), (0.59, 0.30), (0.62, 0.27), (0.38, 0.26), (0.42, 0.24), (0.45, 0.20),
    (0.48, 0.23), (0.52, 0.25), (0.56, 0.21), (0.60, 0.24), (0.64, 0.20), (0.36, 0.18), (0.40, 0.16),
    (0.44, 0.14), (0.47, 0.12), (0.51, 0.16), (0.54, 0.13), (0.58, 0.11), (0.61, 0.15), (0.63, 0.07),
    (0.53, 0.05), (0.49, 0.095), (0.44, 0.10), (0.38, 0.13), (0.35, 0.10),
    (0.66, 0.96), (0.70, 0.95), (0.74, 0.99), (0.77, 0.99), (0.80, 0.97), (0.82, 0.975), (0.87, 0.955),
    (0.90, 0.96), (0.93, 0.955), (0.67, 0.92), (0.72, 0.90), (0.76, 0.88), (0.84, 0.90), (0.88, 0.87),
    (0.93, 0.875), (0.97, 0.88), (0.99, 0.865), (0.70, 0.84), (0.73, 0.85), (0.78, 0.82), (0.82, 0.81),
    (0.86, 0.80), (0.92, 0.78), (0.96, 0.80), (0.68, 0.74), (0.71, 0.72), (0.75, 0.70), (0.78, 0.68),
    (0.81, 0.70), (0.84, 0.72), (0.88, 0.73), (0.91, 0.70), (0.95, 0.66), (0.99, 0.64), (0.98, 0.66),
    (0.66, 0.65), (0.70, 0.60), (0.74, 0.58), (0.77, 0.61), (0.80, 0.59), (0.85, 0.60), (0.89, 0.57),
    (0.93, 0.56), (0.97, 0.54), (0.99, 0.55), (0.68, 0.52), (0.72, 0.51), (0.76, 0.50), (0.79, 0.48),
    (0.83, 0.46), (0.87, 0.45), (0.91, 0.49), (0.95, 0.45), (0.98, 0.43), (0.66, 0.42), (0.70, 0.40),
    (0.74, 0.38), (0.78, 0.36), (0.82, 0.40), (0.86, 0.37), (0.90, 0.34), (0.94, 0.36), (0.97, 0.33),
    (0.67, 0.31), (0.71, 0.28), (0.75, 0.27), (0.79, 0.25), (0.83, 0.27), (0.87, 0.22), (0.90, 0.24),
    (0.94, 0.21), (0.98, 0.23), (0.68, 0.20), (0.72, 0.18), (0.76, 0.15), (0.80, 0.17), (0.84, 0.14),
    (0.88, 0.16), (0.92, 0.13), (0.96, 0.15), (0.99, 0.06), (0.66, 0.08), (0.70, 0.10), (0.74, 0.06),
    (0.78, 0.08), (0.81, 0.06), (0.85, 0.07), (0.89, 0.05), (0.93, 0.09), (0.96, 0.07),
]
heart_red = [(0.095, 0.985), (0.20, 0.96), (0.21, 0.95), (0.25, 0.94), (0.34, 0.96), (0.41, 0.89), (0.38, 0.83),
             (0.31, 0.95), (0.20, 0.85), (0.25, 0.85), (0.355, 0.75), (0.40, 0.76), (0.43, 0.76), (0.46, 0.72),
             (0.49, 0.71), (0.27, 0.72), (0.36, 0.60), (0.20, 0.63), (0.23, 0.59), (0.22, 0.55), (0.26, 0.56),
             (0.20, 0.53), (0.27, 0.51), (0.32, 0.52), (0.21, 0.47), (0.29, 0.45), (0.34, 0.56), (0.40, 0.42),
             (0.40, 0.35), (0.29, 0.35), (0.24, 0.25), (0.22, 0.16), (0.20, 0.18), (0.29, 0.28), (0.33, 0.27),
             (0.36, 0.28), (0.27, 0.20), (0.20, 0.10), (0.22, 0.06), (0.24, 0.06), (0.25, 0.02), (0.33, 0.05),
             (0.40, 0.05), (0.50, 0.08), (0.52, 0.63), (0.55, 0.50), (0.58, 0.44), (0.60, 0.45), (0.62, 0.88),
             (0.61, 0.81), (0.62, 0.99), (0.65, 0.77), (0.69, 0.96), (0.74, 0.98), (0.78, 0.76), (0.77, 0.74),
             (0.77, 0.60), (0.76, 0.52), (0.80, 0.40), (0.82, 0.18), (0.74, 0.16), (0.83, 0.06), (0.92, 0.80),
             (0.91, 0.70), (0.92, 0.61), (0.95, 0.61), (0.94, 0.57), (0.96, 0.61), (0.95, 0.24), (0.97, 0.43),
             (0.84, 0.37), (0.58, 0.09), (0.55, 0.08), (0.47, 0.14), (0.35, 0.73)]
heart_purple = [(0.075, 0.94), (0.045, 0.83), (0.0, 0.20)]

# Skin
skin_green = [
    (0.0, 0.98), (0.01, 0.97), (0.025, 0.985), (0.04, 0.985), (0.065, 0.99), (0.07, 0.98), (0.055, 0.96),
    (0.02, 0.94), (0.035, 0.945), (0.045, 0.94), (0.06, 0.93), (0.005, 0.92), (0.075, 0.92), (0.09, 0.90),
    (0.03, 0.90), (0.05, 0.895), (0.015, 0.88), (0.065, 0.87), (0.04, 0.865), (0.085, 0.86), (0.0, 0.86),
    (0.02, 0.845), (0.035, 0.83), (0.055, 0.84), (0.075, 0.82), (0.01, 0.81), (0.045, 0.80), (0.09, 0.805),
    (0.025, 0.785), (0.065, 0.78), (0.10, 0.76), (0.005, 0.765), (0.04, 0.75), (0.08, 0.745), (0.015, 0.73),
    (0.055, 0.725), (0.03, 0.71), (0.07, 0.705), (0.095, 0.72), (0.005, 0.69), (0.025, 0.68), (0.05, 0.685),
    (0.085, 0.675), (0.035, 0.66), (0.07, 0.65), (0.01, 0.645), (0.045, 0.63), (0.095, 0.635), (0.02, 0.615),
    (0.06, 0.605), (0.08, 0.59), (0.03, 0.59), (0.005, 0.575), (0.05, 0.565), (0.09, 0.56), (0.015, 0.555),
    (0.035, 0.545), (0.07, 0.54), (0.005, 0.525), (0.05, 0.515), (0.085, 0.51), (0.02, 0.50), (0.065, 0.49),
    (0.04, 0.475), (0.01, 0.465), (0.08, 0.46), (0.03, 0.445), (0.055, 0.44), (0.095, 0.435), (0.015, 0.42),
    (0.045, 0.41), (0.075, 0.405), (0.005, 0.395), (0.03, 0.385), (0.06, 0.38), (0.085, 0.37), (0.02, 0.36),
    (0.045, 0.35), (0.07, 0.34), (0.01, 0.33), (0.035, 0.32), (0.09, 0.315), (0.055, 0.305), (0.02, 0.295),
    (0.075, 0.285), (0.04, 0.275), (0.005, 0.27), (0.06, 0.26), (0.095, 0.255), (0.015, 0.245), (0.035, 0.235),
    (0.055, 0.225), (0.08, 0.22), (0.0, 0.215), (0.025, 0.205), (0.045, 0.20), (0.07, 0.195), (0.09, 0.185),
    (0.01, 0.18), (0.035, 0.17), (0.06, 0.165), (0.02, 0.155), (0.05, 0.15), (0.08, 0.145), (0.005, 0.14),
    (0.03, 0.135), (0.065, 0.13), (0.10, 0.125), (0.015, 0.12), (0.045, 0.115), (0.075, 0.11), (0.0, 0.105),
    (0.025, 0.10), (0.055, 0.10), (0.09, 0.095), (0.005, 0.09), (0.015, 0.085), (0.03, 0.08), (0.04, 0.09),
    (0.05, 0.075), (0.065, 0.085), (0.08, 0.08), (0.10, 0.085), (0.0, 0.07), (0.01, 0.065), (0.02, 0.075),
    (0.035, 0.06), (0.045, 0.065), (0.06, 0.06), (0.07, 0.07), (0.085, 0.065), (0.095, 0.06), (0.005, 0.05),
    (0.025, 0.055), (0.04, 0.045), (0.055, 0.05), (0.075, 0.045), (0.09, 0.05), (0.01, 0.04), (0.02, 0.035),
    (0.03, 0.04), (0.05, 0.035), (0.065, 0.03), (0.08, 0.035), (0.0, 0.03), (0.015, 0.025), (0.035, 0.03),
    (0.06, 0.04), (0.10, 0.045),
    (0.11, 0.08), (0.12, 0.06), (0.13, 0.09), (0.14, 0.05), (0.15, 0.07), (0.16, 0.085), (0.17, 0.06),
    (0.18, 0.075), (0.19, 0.045), (0.20, 0.09), (0.21, 0.065), (0.22, 0.08), (0.23, 0.05), (0.24, 0.07),
    (0.25, 0.09), (0.26, 0.06), (0.27, 0.08), (0.28, 0.045), (0.29, 0.07), (0.30, 0.095), (0.31, 0.055),
    (0.32, 0.08), (0.33, 0.065), (0.34, 0.09), (0.35, 0.05), (0.36, 0.075), (0.37, 0.06), (0.38, 0.09),
    (0.39, 0.045), (0.40, 0.07), (0.41, 0.085), (0.42, 0.055), (0.43, 0.075), (0.44, 0.065), (0.45, 0.09),
    (0.46, 0.05), (0.47, 0.08), (0.48, 0.06), (0.49, 0.075), (0.50, 0.045), (0.51, 0.07), (0.52, 0.09),
    (0.53, 0.06), (0.54, 0.08), (0.55, 0.05), (0.56, 0.075), (0.57, 0.065), (0.58, 0.09), (0.59, 0.055),
    (0.60, 0.08), (0.61, 0.07), (0.62, 0.09), (0.63, 0.05), (0.64, 0.085), (0.65, 0.065), (0.66, 0.08),
    (0.67, 0.045), (0.68, 0.07), (0.69, 0.09), (0.70, 0.06), (0.71, 0.075), (0.72, 0.05), (0.73, 0.085),
    (0.74, 0.065), (0.75, 0.08), (0.76, 0.04), (0.77, 0.07), (0.78, 0.09), (0.79, 0.055), (0.80, 0.075),
    (0.81, 0.06), (0.82, 0.085), (0.83, 0.045), (0.84, 0.07), (0.85, 0.09), (0.86, 0.06), (0.87, 0.08),
    (0.88, 0.05), (0.89, 0.075), (0.90, 0.065), (0.91, 0.085), (0.92, 0.055), (0.93, 0.075), (0.94, 0.06),
    (0.95, 0.09), (0.96, 0.07), (0.97, 0.05), (0.98, 0.08), (0.99, 0.065), (0.995, 0.09), (0.125, 0.075),
    (0.165, 0.07), (0.205, 0.075), (0.245, 0.055), (0.285, 0.085), (0.325, 0.05), (0.365, 0.085),
    (0.405, 0.06), (0.445, 0.075), (0.485, 0.085), (0.525, 0.07), (0.565, 0.085), (0.605, 0.06), (0.645, 0.07),
    (0.685, 0.08), (0.725, 0.07), (0.765, 0.085), (0.805, 0.09), (0.845, 0.055), (0.885, 0.085), (0.925, 0.07),
    (0.965, 0.085),
    (0.14, 0.995), (0.15, 0.98), (0.165, 0.96), (0.245, 0.97), (0.26, 0.94), (0.39, 1.0), (0.64, 1.0),
    (0.36, 0.96), (0.34, 0.92), (0.355, 0.90), (0.32, 0.875), (0.33, 0.86), (0.355, 0.86), (0.24, 0.875),
    (0.48, 0.875), (0.43, 0.83), (0.72, 0.83), (0.67, 0.845), (0.69, 0.85), (0.74, 0.86), (0.84, 0.85),
    (0.92, 0.88), (0.15, 0.77), (0.155, 0.76), (0.13, 0.82), (0.41, 0.76), (0.48, 0.735), (0.63, 0.775),
    (0.69, 0.73), (0.78, 0.76), (0.85, 0.745), (0.94, 0.74), (0.96, 0.725), (0.18, 0.705), (0.21, 0.695),
    (0.23, 0.72), (0.24, 0.71), (0.26, 0.67), (0.29, 0.655), (0.33, 0.70), (0.41, 0.705), (0.52, 0.64),
    (0.50, 0.625), (0.58, 0.71), (0.63, 0.655), (0.75, 0.69), (0.77, 0.67), (0.79, 0.625), (0.85, 0.705),
    (0.86, 0.69), (0.95, 0.69), (0.22, 0.62), (0.24, 0.60), (0.23, 0.585), (0.14, 0.515), (0.34, 0.49),
    (0.29, 0.465), (0.31, 0.445), (0.31, 0.395), (0.54, 0.505), (0.56, 0.51), (0.53, 0.445), (0.50, 0.45),
    (0.45, 0.435), (0.47, 0.43), (0.43, 0.41), (0.58, 0.40), (0.53, 0.39), (0.70, 0.48), (0.72, 0.40),
    (0.74, 0.41), (0.76, 0.39), (0.71, 0.54), (0.74, 0.535), (0.75, 0.53), (0.68, 0.59), (0.67, 0.58),
    (0.82, 0.57), (0.85, 0.47), (0.87, 0.41), (0.90, 0.53), (0.91, 0.53), (0.94, 0.45), (0.96, 0.40),
    (0.97, 0.39), (0.94, 0.34), (0.99, 0.335), (0.15, 0.38), (0.155, 0.385), (0.14, 0.32), (0.16, 0.23),
    (0.17, 0.23), (0.20, 0.27), (0.19, 0.245), (0.23, 0.255), (0.24, 0.215), (0.27, 0.33), (0.34, 0.37),
    (0.36, 0.345), (0.36, 0.33), (0.38, 0.27), (0.39, 0.24), (0.40, 0.23), (0.34, 0.215), (0.38, 0.17),
    (0.40, 0.13), (0.42, 0.28), (0.45, 0.26), (0.47, 0.29), (0.49, 0.245), (0.51, 0.215), (0.52, 0.19),
    (0.54, 0.18), (0.56, 0.23), (0.59, 0.17), (0.61, 0.22), (0.62, 0.19), (0.66, 0.30), (0.65, 0.32),
    (0.66, 0.20), (0.69, 0.21), (0.71, 0.165), (0.74, 0.22), (0.82, 0.20), (0.86, 0.175), (0.83, 0.295),
    (0.90, 0.23), (0.89, 0.18), (0.84, 0.13), (0.88, 0.12), (0.95, 0.125), (0.20, 0.15), (0.26, 0.14),
    (0.29, 0.135), (0.36, 0.12), (0.49, 0.13), (0.67, 0.12), (0.74, 0.12), (0.78, 0.12), (0.80, 0.115),
]
skin_red = [(0.01, 0.97), (0.065, 0.975), (0.09, 0.91), (0.01, 0.88), (0.005, 0.87), (0.02, 0.84), (0.03, 0.81),
            (0.015, 0.79), (0.05, 0.81), (0.07, 0.78), (0.025, 0.73), (0.01, 0.72), (0.08, 0.69), (0.095, 0.66),
            (0.01, 0.60), (0.025, 0.59), (0.05, 0.56), (0.06, 0.545), (0.02, 0.54), (0.055, 0.53), (0.0, 0.39),
            (0.025, 0.36), (0.095, 0.25), (0.07, 0.20), (0.03, 0.19), (0.015, 0.14), (0.005, 0.12), (0.06, 0.10),
            (0.035, 0.07), (0.08, 0.08), (0.11, 0.065), (0.15, 0.06), (0.155, 0.03), (0.18, 0.02), (0.21, 0.045),
            (0.24, 0.04), (0.27, 0.055), (0.30, 0.88), (0.30, 0.02), (0.37, 0.06), (0.42, 0.065), (0.45, 0.03),
            (0.52, 0.05), (0.57, 0.065), (0.62, 0.05), (0.68, 0.06), (0.71, 0.06), (0.75, 0.07), (0.81, 0.07),
            (0.84, 0.065), (0.87, 0.035), (0.89, 0.05), (0.93, 0.06), (0.96, 0.07), (0.12, 0.07)]
skin_purple = [(0.065, 0.545), (0.31, 0.045), (0.02, 0.03)]

# Esophagus
eso_green = [
    (0.0, 0.97), (0.01, 0.975), (0.025, 0.97), (0.04, 0.98), (0.045, 0.96), (0.06, 0.95), (0.085, 0.95),
    (0.09, 0.965), (0.005, 0.93), (0.02, 0.91), (0.055, 0.915), (0.07, 0.925), (0.10, 0.91), (0.08, 0.90),
    (0.04, 0.88), (0.06, 0.88), (0.0, 0.88), (0.015, 0.86), (0.03, 0.84), (0.075, 0.85), (0.095, 0.86),
    (0.11, 0.84), (0.10, 0.80), (0.07, 0.82), (0.05, 0.80), (0.01, 0.82), (0.02, 0.79), (0.035, 0.77),
    (0.005, 0.75), (0.06, 0.76), (0.08, 0.74), (0.03, 0.72), (0.05, 0.71), (0.01, 0.70), (0.10, 0.67),
    (0.0, 0.67), (0.02, 0.65), (0.045, 0.64), (0.07, 0.66), (0.015, 0.62), (0.04, 0.60), (0.065, 0.60),
    (0.005, 0.59), (0.03, 0.57), (0.055, 0.56), (0.005, 0.54), (0.05, 0.51), (0.07, 0.52), (0.09, 0.50),
    (0.02, 0.49), (0.04, 0.47), (0.0, 0.46), (0.01, 0.43), (0.025, 0.43), (0.045, 0.42), (0.07, 0.41),
    (0.09, 0.40), (0.03, 0.39), (0.0, 0.37), (0.015, 0.35), (0.05, 0.35), (0.07, 0.36), (0.10, 0.33),
    (0.035, 0.31), (0.0, 0.29), (0.02, 0.28), (0.045, 0.27), (0.075, 0.28), (0.10, 0.25), (0.01, 0.25),
    (0.05, 0.22), (0.0, 0.21), (0.025, 0.20), (0.07, 0.19), (0.005, 0.16), (0.035, 0.17), (0.055, 0.15),
    (0.08, 0.14), (0.015, 0.13), (0.045, 0.12), (0.10, 0.13), (0.0, 0.12),
    (0.005, 0.08), (0.015, 0.05), (0.025, 0.09), (0.03, 0.03), (0.04, 0.07), (0.05, 0.045), (0.06, 0.085),
    (0.07, 0.03), (0.08, 0.065), (0.09, 0.09), (0.10, 0.05), (0.11, 0.075), (0.12, 0.035), (0.13, 0.085),
    (0.14, 0.06), (0.15, 0.045), (0.16, 0.08), (0.17, 0.065), (0.18, 0.09), (0.19, 0.04), (0.20, 0.07),
    (0.21, 0.085), (0.22, 0.055), (0.23, 0.075), (0.24, 0.03), (0.25, 0.065), (0.26, 0.09), (0.27, 0.05),
    (0.28, 0.08), (0.29, 0.06), (0.30, 0.09), (0.31, 0.04), (0.32, 0.075), (0.33, 0.055), (0.34, 0.085),
    (0.35, 0.03), (0.36, 0.065), (0.37, 0.08), (0.38, 0.045), (0.39, 0.07), (0.40, 0.09), (0.41, 0.05),
    (0.42, 0.075), (0.43, 0.035), (0.44, 0.06), (0.45, 0.085), (0.46, 0.045), (0.47, 0.07), (0.48, 0.09),
    (0.49, 0.055), (0.50, 0.08), (0.51, 0.035), (0.52, 0.065), (0.53, 0.085), (0.54, 0.05), (0.55, 0.075),
    (0.56, 0.03), (0.57, 0.06), (0.58, 0.085), (0.59, 0.045), (0.60, 0.07), (0.61, 0.09), (0.62, 0.055),
    (0.63, 0.08), (0.64, 0.035), (0.65, 0.065), (0.66, 0.085), (0.67, 0.05), (0.68, 0.075), (0.69, 0.04),
    (0.70, 0.065), (0.71, 0.09), (0.72, 0.055), (0.73, 0.08), (0.74, 0.03), (0.75, 0.06), (0.76, 0.085),
    (0.77, 0.045), (0.78, 0.07), (0.79, 0.09), (0.80, 0.05), (0.81, 0.075), (0.82, 0.035), (0.83, 0.065),
    (0.84, 0.085), (0.85, 0.045), (0.86, 0.07), (0.87, 0.09), (0.88, 0.055), (0.89, 0.08), (0.90, 0.03),
    (0.91, 0.065), (0.92, 0.085), (0.93, 0.045), (0.94, 0.07), (0.95, 0.09), (0.96, 0.05), (0.97, 0.075),
    (0.98, 0.035), (0.99, 0.06), (0.995, 0.085), (0.035, 0.06), (0.075, 0.055), (0.115, 0.09), (0.155, 0.03),
    (0.195, 0.075), (0.235, 0.06), (0.275, 0.035), (0.315, 0.09), (0.355, 0.07), (0.395, 0.03), (0.435, 0.08),
    (0.475, 0.03), (0.515, 0.09), (0.555, 0.055), (0.595, 0.03), (0.635, 0.06), (0.675, 0.03), (0.715, 0.035),
    (0.755, 0.04), (0.795, 0.06), (0.835, 0.05), (0.875, 0.035), (0.915, 0.045), (0.955, 0.07), (0.985, 0.09),
    (0.26, 0.02), (0.40, 0.025), (0.56, 0.02), (0.65, 0.025), (0.79, 0.025), (0.94, 0.02),
    (0.16, 0.98), (0.27, 0.97), (0.26, 0.95), (0.33, 0.95), (0.39, 0.99), (0.39, 0.95), (0.43, 0.985),
    (0.48, 0.97), (0.58, 0.97), (0.65, 0.985), (0.84, 0.985), (0.85, 0.97), (0.90, 0.96), (0.97, 0.96),
    (0.98, 0.99), (0.18, 0.92), (0.22, 0.88), (0.27, 0.86), (0.37, 0.89), (0.37, 0.87), (0.46, 0.86),
    (0.47, 0.86), (0.52, 0.85), (0.55, 0.86), (0.64, 0.84), (0.73, 0.90), (0.72, 0.92), (0.79, 0.92),
    (0.78, 0.86), (0.76, 0.84), (0.81, 0.84), (0.88, 0.85), (0.87, 0.84), (0.94, 0.90), (0.95, 0.91),
    (0.96, 0.92), (0.95, 0.82), (0.99, 0.82), (0.25, 0.80), (0.48, 0.78), (0.17, 0.75), (0.17, 0.74),
    (0.12, 0.83), (0.13, 0.67), (0.20, 0.67), (0.32, 0.70), (0.35, 0.71), (0.45, 0.69), (0.58, 0.70),
    (0.57, 0.68), (0.64, 0.70), (0.67, 0.70), (0.63, 0.64), (0.63, 0.62), (0.73, 0.76), (0.74, 0.77),
    (0.75, 0.75), (0.76, 0.76), (0.72, 0.63), (0.83, 0.64), (0.87, 0.62), (0.93, 0.64), (0.94, 0.62),
    (0.96, 0.64), (0.23, 0.62), (0.32, 0.58), (0.25, 0.54), (0.21, 0.54), (0.36, 0.58), (0.40, 0.60),
    (0.42, 0.60), (0.49, 0.56), (0.54, 0.57), (0.56, 0.55), (0.68, 0.56), (0.67, 0.58), (0.79, 0.51),
    (0.81, 0.46), (0.86, 0.54), (0.87, 0.54), (0.99, 0.51), (0.98, 0.51), (0.23, 0.47), (0.26, 0.47),
    (0.29, 0.50), (0.32, 0.48), (0.46, 0.48), (0.50, 0.41), (0.44, 0.38), (0.37, 0.44), (0.57, 0.45),
    (0.73, 0.49), (0.15, 0.43), (0.20, 0.42), (0.21, 0.42), (0.24, 0.39), (0.25, 0.38), (0.26, 0.39),
    (0.40, 0.36), (0.44, 0.41), (0.63, 0.39), (0.71, 0.37), (0.71, 0.36), (0.75, 0.36), (0.80, 0.38),
    (0.82, 0.35), (0.77, 0.35), (0.90, 0.42), (0.96, 0.41), (0.99, 0.42), (0.20, 0.32), (0.17, 0.30),
    (0.29, 0.28), (0.32, 0.31), (0.35, 0.32), (0.45, 0.29), (0.47, 0.24), (0.47, 0.22), (0.50, 0.23),
    (0.52, 0.25), (0.53, 0.27), (0.50, 0.26), (0.60, 0.25), (0.65, 0.22), (0.66, 0.22), (0.70, 0.23),
    (0.75, 0.25), (0.73, 0.26), (0.81, 0.28), (0.83, 0.30), (0.85, 0.22), (0.89, 0.23), (0.91, 0.30),
    (0.93, 0.32), (0.97, 0.23), (0.96, 0.20), (0.99, 0.22), (0.99, 0.20), (0.14, 0.21), (0.18, 0.18),
    (0.21, 0.16), (0.29, 0.20), (0.33, 0.20), (0.34, 0.19), (0.37, 0.18), (0.39, 0.20), (0.40, 0.19),
    (0.26, 0.14), (0.29, 0.14), (0.33, 0.14), (0.36, 0.14), (0.49, 0.13), (0.51, 0.12), (0.55, 0.13),
    (0.59, 0.16), (0.69, 0.14), (0.73, 0.16), (0.80, 0.12), (0.82, 0.12), (0.83, 0.13), (0.89, 0.18),
    (0.91, 0.12), (0.93, 0.11), (0.98, 0.15), (0.11, 0.10), (0.14, 0.10),
]
eso_red = [(0.005, 0.97), (0.01, 0.93), (0.025, 0.92), (0.045, 0.90), (0.055, 0.90), (0.035, 0.85), (0.07, 0.84),
           (0.03, 0.76), (0.02, 0.73), (0.065, 0.75), (0.055, 0.75), (0.085, 0.72), (0.02, 0.67), (0.025, 0.64),
           (0.095, 0.65), (0.09, 0.55), (0.035, 0.51), (0.075, 0.44), (0.07, 0.43), (0.015, 0.37), (0.02, 0.37),
           (0.045, 0.35), (0.065, 0.36), (0.04, 0.32), (0.05, 0.32), (0.035, 0.30), (0.0, 0.24), (0.01, 0.25),
           (0.055, 0.21), (0.045, 0.20), (0.005, 0.16), (0.01, 0.17), (0.095, 0.24), (0.01, 0.09), (0.01, 0.06),
           (0.05, 0.05), (0.08, 0.07), (0.10, 0.06), (0.12, 0.04), (0.14, 0.06), (0.20, 0.05), (0.23, 0.04),
           (0.28, 0.14), (0.27, 0.09), (0.30, 0.08), (0.32, 0.05), (0.36, 0.04), (0.40, 0.02), (0.47, 0.03),
           (0.52, 0.05), (0.55, 0.06), (0.58, 0.07), (0.62, 0.06), (0.63, 0.05), (0.69, 0.03), (0.72, 0.06),
           (0.75, 0.06), (0.80, 0.09), (0.82, 0.07), (0.85, 0.04), (0.88, 0.05), (0.92, 0.07), (0.93, 0.44),
           (0.95, 0.03), (0.97, 0.06)]
eso_purple = []


def pts(pairs):
    a = np.array(pairs, dtype=float)
    return a.reshape(-1, 2)


greens = [
    blood_green + [(1.0, y) for y in blood_one_y],
    brain_green + [(x, brain_floor_y) for x in brain_floor_x],
    adipose_green + [(0.0, y) for y in adipose_zero_y],
    muscle_green + [(0.0, y) for y in muscle_zero_y],
    bv_green + [(0.0, y) for y in bv_zero_y],
    heart_green + [(0.185, y) for y in heart_edge_y],
    skin_green,
    eso_green,
]
reds = [blood_red, brain_red, adipose_red, muscle_red, bv_red, heart_red, skin_red, eso_red]
purples = [blood_purple, brain_purple, adipose_purple, muscle_purple,
           bv_purple, heart_purple, skin_purple, eso_purple]

# ---------------- layout ----------------
W, H = 1315, 753
fig = plt.figure(figsize=(W / 100, H / 100), dpi=100)
cols = [(55, 361), (372, 678), (687, 994), (1005, 1310)]
rows = [(37, 312), (400, 673)]

GREEN, RED, PURPLE = "#00FF00", "#FF0000", "#8A2BE2"
FRAME = "#808080"

for i, name in enumerate(tissues):
    r, c = divmod(i, 4)
    (l, rr), (t, b) = cols[c], rows[r]
    ax = fig.add_axes([l / W, 1 - b / H, (rr - l) / W, (b - t) / H])

    g, rd, pu = pts(greens[i]), pts(reds[i]), pts(purples[i])
    ax.scatter(g[:, 0], g[:, 1], s=5, c=GREEN, linewidths=0, zorder=2)
    ax.scatter(rd[:, 0], rd[:, 1], s=5, c=RED, linewidths=0, zorder=3)
    if len(pu):
        ax.scatter(pu[:, 0], pu[:, 1], s=5, c=PURPLE, linewidths=0, zorder=4)

    ax.set_xlim(-0.04, 1.04)
    ax.set_ylim(-0.04, 1.04)
    ax.set_xticks(xticks)
    ax.set_yticks(xticks)
    ax.set_xticklabels([f"{v:.1f}" for v in xticks])
    for sp in ax.spines.values():
        sp.set_color(FRAME)
        sp.set_linewidth(1.3)
    ax.tick_params(direction="out", length=3, width=1, color=FRAME,
                   labelsize=7, labelcolor="#333333", pad=5)
    if c == 0:
        ax.set_yticklabels([f"{v:.1f}" for v in xticks], rotation=90, va="center")
        ax.set_ylabel(ylabels[r], fontsize=11.3, color="#222222", labelpad=8)
    else:
        ax.set_yticklabels([])
    ax.set_xlabel("Expression FDR", fontsize=11.3, color="#222222", labelpad=6)
    ax.set_title(name, fontsize=12.7, fontweight="bold", pad=9)

handles = [Line2D([], [], marker="o", ls="", markersize=10.5, markerfacecolor=col, markeredgecolor=col)
           for col in ["#33FF4D", "#FF0000", "#7030A0"]]
fig.legend(handles, legend_labels, loc="center", bbox_to_anchor=(0.5475, 0.0173), ncol=3,
           frameon=False, prop={"family": "Lato", "size": 11.2}, handletextpad=0.1,
           columnspacing=0.9, borderaxespad=0)

fig.savefig("out.png", dpi=100)
